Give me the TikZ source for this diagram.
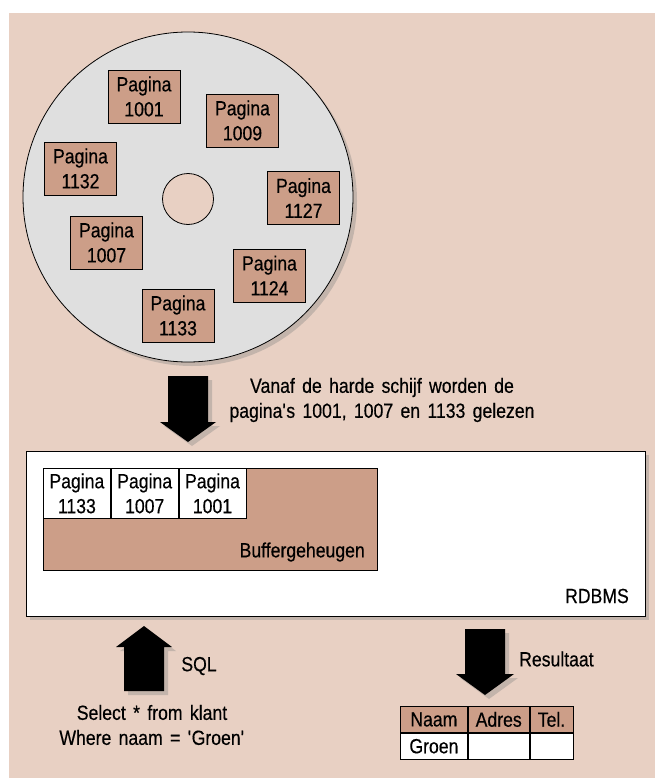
\documentclass[tikz,border=0pt]{standalone}
\usepackage{fontspec}
\setmainfont{Liberation Sans}[FakeStretch=0.86,FakeBold=0.4,WordSpace=1.5]
\usetikzlibrary{shadows}
\usetikzlibrary{positioning}
\definecolor{bgpink}{RGB}{232,208,195}
\definecolor{pagebrown}{RGB}{204,158,136}
\definecolor{diskgray}{RGB}{223,223,223}

\begin{document}
\begin{tikzpicture}
		[x=1pt,y=-1pt,
		every node/.style={font=\fontsize{20.5}{25}\selectfont,inner sep=0pt},
		soft/.style={drop shadow={opacity=0.35,shadow xshift=4pt,shadow yshift=-4pt}},
		page/.style={draw,line width=0.9pt,fill=pagebrown,minimum width=72pt,minimum height=53pt,align=center},
		bufcell/.style={draw,line width=0.8pt,fill=white,minimum width=67pt,minimum height=50pt,align=center},
		tcell/.style={draw,line width=0.8pt,minimum height=26pt},
		blockarrow/.style={fill=black,soft}]
		\useasboundingbox (0,0) rectangle (655,781);
		\fill[bgpink] (9,13) rectangle (655,778);
		
		% harde schijf
		\node[circle,draw,line width=0.8pt,fill=diskgray,minimum size=330pt,soft] (disk) at (188,197) {};
		\node[circle,draw,line width=0.8pt,fill=bgpink,minimum size=51pt] (hole) at (188,199) {};
		\foreach \nr/\x/\y in
		{1001/144/96.5, 1009/242.5/120.5, 1132/80.5/168.5, 1127/303.5/198,
		 1007/106.5/242.5, 1124/269.5/275.5, 1133/178/315.5}
		\node[page] (p\nr) at (\x,\y) {Pagina\\\nr};
		
		\fill[blockarrow] (168,376) -- (208,376) -- (208,422) -- (216,422) -- (188,442) -- (160,422) -- (168,422) -- cycle;
		\node[align=center] (lezen) at (382,400) {Vanaf de harde schijf worden de\\pagina\textquotesingle s 1001, 1007 en 1133 gelezen};
		
		% RDBMS met buffer
		\node[draw,line width=0.9pt,fill=white,soft,minimum width=619pt,minimum height=165pt,anchor=north west] (rdbms) at (26,451) {};
		\node[anchor=east] (rdbmslbl) at (629,596) {RDBMS};
		\node[draw,line width=0.9pt,fill=pagebrown,minimum width=334pt,minimum height=102pt,anchor=north west] (buffer) at (43,468) {};
		\node[bufcell,anchor=north west] (b1133) at (buffer.north west) {Pagina\\1133};
		\node[bufcell,right=0pt of b1133] (b1007) {Pagina\\1007};
		\node[bufcell,right=0pt of b1007] (b1001) {Pagina\\1001};
		\node[anchor=east] (bufferlbl) at (365,552) {Buffergeheugen};
		
		% vraag
		\fill[blockarrow] (124,691) -- (124,647) -- (116,647) -- (144,626) -- (172,647) -- (164,647) -- (164,691) -- cycle;
		\node (sql) at (199,666) {SQL};
		\node[align=center] (query) at (152,725) {Select * from klant\\Where naam = \textquotesingle Groen\textquotesingle};
		
		% resultaat
		\fill[blockarrow] (465,629) -- (505,629) -- (505,674) -- (514,674) -- (485,695) -- (456,674) -- (465,674) -- cycle;
		\node[anchor=west] (result) at (519,659) {Resultaat};
		\node[tcell,fill=pagebrown,minimum width=67pt,anchor=north west] (naam) at (400,706) {Naam};
		\node[tcell,fill=pagebrown,minimum width=61pt,right=0pt of naam] (adres) {Adres};
		\node[tcell,fill=pagebrown,minimum width=43pt,right=0pt of adres] (tel) {Tel.};
		\node[tcell,fill=white,minimum width=67pt,below=0pt of naam] (groen) {Groen};
		\node[tcell,fill=white,minimum width=61pt,below=0pt of adres] (adres2) {};
		\node[tcell,fill=white,minimum width=43pt,below=0pt of tel] (tel2) {};
		\end{tikzpicture}
\end{document}
